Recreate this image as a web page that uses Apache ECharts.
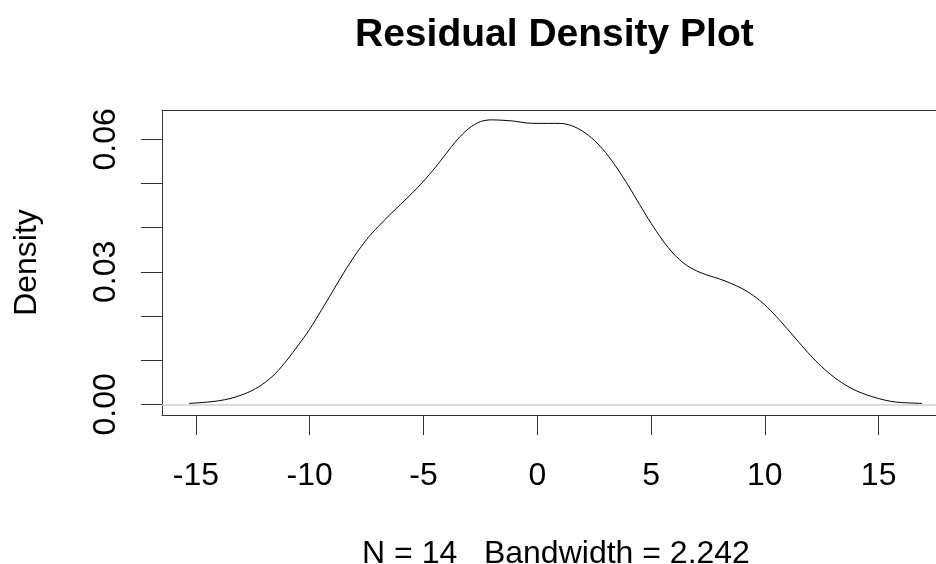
<!DOCTYPE html>
<html>
<head>
<meta charset="utf-8">
<title>Residual Density Plot</title>
<script src="https://cdn.jsdelivr.net/npm/echarts@6/dist/echarts.min.js"></script>
<style>
  html, body { margin: 0; padding: 0; background: #fff; }
  #chart { width: 936px; height: 564px; }
</style>
</head>
<body>
<div id="chart"></div>
<script>
// Kernel density estimate of the residuals (x = residual, y = density)
var residualX = [
  -15.3, -14.5, -14.0, -13.5, -13.0, -12.5, -12.0, -11.5, -11.0, -10.5,
  -10.0, -9.5, -9.0, -8.5, -8.0, -7.5, -7.0, -6.5, -6.0, -5.5,
  -5.0, -4.5, -4.0, -3.5, -3.0, -2.5, -2.0, -1.5, -1.0, -0.5,
  0.0, 0.5, 1.0, 1.5, 2.0, 2.5, 3.0, 3.5, 4.0, 4.5,
  5.0, 5.5, 6.0, 6.5, 7.0, 7.5, 8.0, 8.5, 9.0, 9.5,
  10.0, 10.5, 11.0, 11.5, 12.0, 12.5, 13.0, 13.5, 14.0, 14.5,
  15.0, 15.5, 16.0, 16.9
];
var densityY = [
  0.0002, 0.0005, 0.0008, 0.0013, 0.0021, 0.0032, 0.0048, 0.0070, 0.0100, 0.0134,
  0.0170, 0.0212, 0.0255, 0.0298, 0.0338, 0.0373, 0.0402, 0.0428, 0.0453, 0.0478,
  0.0505, 0.0535, 0.0568, 0.0600, 0.0625, 0.0640, 0.0644, 0.0643, 0.0641, 0.0637,
  0.0636, 0.0636, 0.0636, 0.0631, 0.0618, 0.0598, 0.0570, 0.0535, 0.0495, 0.0452,
  0.0410, 0.0372, 0.0340, 0.0317, 0.0302, 0.0292, 0.0284, 0.0274, 0.0262, 0.0246,
  0.0225, 0.0199, 0.0170, 0.0140, 0.0111, 0.0085, 0.0063, 0.0045, 0.0031, 0.0021,
  0.0013, 0.0007, 0.0004, 0.0002
];

// Axis ticks and labels
var xTicks = [-15, -10, -5, 0, 5, 10, 15];
var yTicks = [0, 0.01, 0.02, 0.03, 0.04, 0.05, 0.06];
var yLabelValues = [0, 0.03, 0.06];

var titleText = 'Residual Density Plot';
var xAxisTitle = 'N = 14   Bandwidth = 2.242';
var yAxisTitle = 'Density';

var FONT = '"Liberation Sans", Arial, Helvetica, sans-serif';
var AXIS_COLOR = '#333';

var points = residualX.map(function (x, i) { return [x, densityY[i]]; });

var chart = echarts.init(document.getElementById('chart'), null, { renderer: 'canvas' });

chart.setOption({
  animation: false,
  backgroundColor: '#ffffff',
  grid: { left: 162, top: 110, right: 0, bottom: 149, containLabel: false, outerBoundsMode: 'none' },
  graphic: [{
    type: 'text',
    left: 555 - 200, top: 16,
    style: {
      text: titleText,
      width: 400,
      align: 'center',
      font: 'bold 39px ' + FONT,
      fill: '#000'
    }
  }],
  xAxis: [{
    type: 'value',
    position: 'bottom',
    min: -16.49,
    max: 17.52,
    name: xAxisTitle,
    nameLocation: 'middle',
    nameGap: 123,
    nameTextStyle: { fontFamily: FONT, fontSize: 32, color: '#000', padding: [0, 0, 0, 14] },
    axisLine: { show: true, onZero: false, lineStyle: { color: AXIS_COLOR, width: 1 } },
    axisTick: { show: true, length: 20, customValues: xTicks, lineStyle: { color: AXIS_COLOR, width: 1 } },
    axisLabel: {
      customValues: xTicks, margin: 45,
      fontFamily: FONT, fontSize: 32, color: '#000'
    },
    splitLine: { show: false }
  }, {
    // top border of the plot box
    type: 'value',
    position: 'top',
    min: -16.49,
    max: 17.52,
    axisLine: { show: true, onZero: false, lineStyle: { color: AXIS_COLOR, width: 1 } },
    axisTick: { show: false },
    axisLabel: { show: false },
    splitLine: { show: false }
  }],
  yAxis: {
    type: 'value',
    min: -0.00242,
    max: 0.06663,
    name: yAxisTitle,
    nameLocation: 'middle',
    nameRotate: 90,
    nameGap: 119,
    nameTextStyle: { fontFamily: FONT, fontSize: 32, color: '#000' },
    axisLine: { show: true, onZero: false, lineStyle: { color: AXIS_COLOR, width: 1 } },
    axisTick: { show: true, length: 21, customValues: yTicks, lineStyle: { color: AXIS_COLOR, width: 1 } },
    axisLabel: {
      customValues: yLabelValues, rotate: 90, margin: 40,
      fontFamily: FONT, fontSize: 32, color: '#000',
      formatter: function (v) { return v.toFixed(2); }
    },
    splitLine: { show: false }
  },
  series: [{
    type: 'line',
    data: points,
    showSymbol: false,
    smooth: 0.3,
    lineStyle: { color: '#000', width: 1 },
    markLine: {
      silent: true,
      symbol: ['none', 'none'],
      label: { show: false },
      lineStyle: { color: '#cfcfcf', width: 1.5, type: 'solid' },
      data: [{ yAxis: 0 }]
    },
    z: 3
  }]
});
</script>
</body>
</html>
